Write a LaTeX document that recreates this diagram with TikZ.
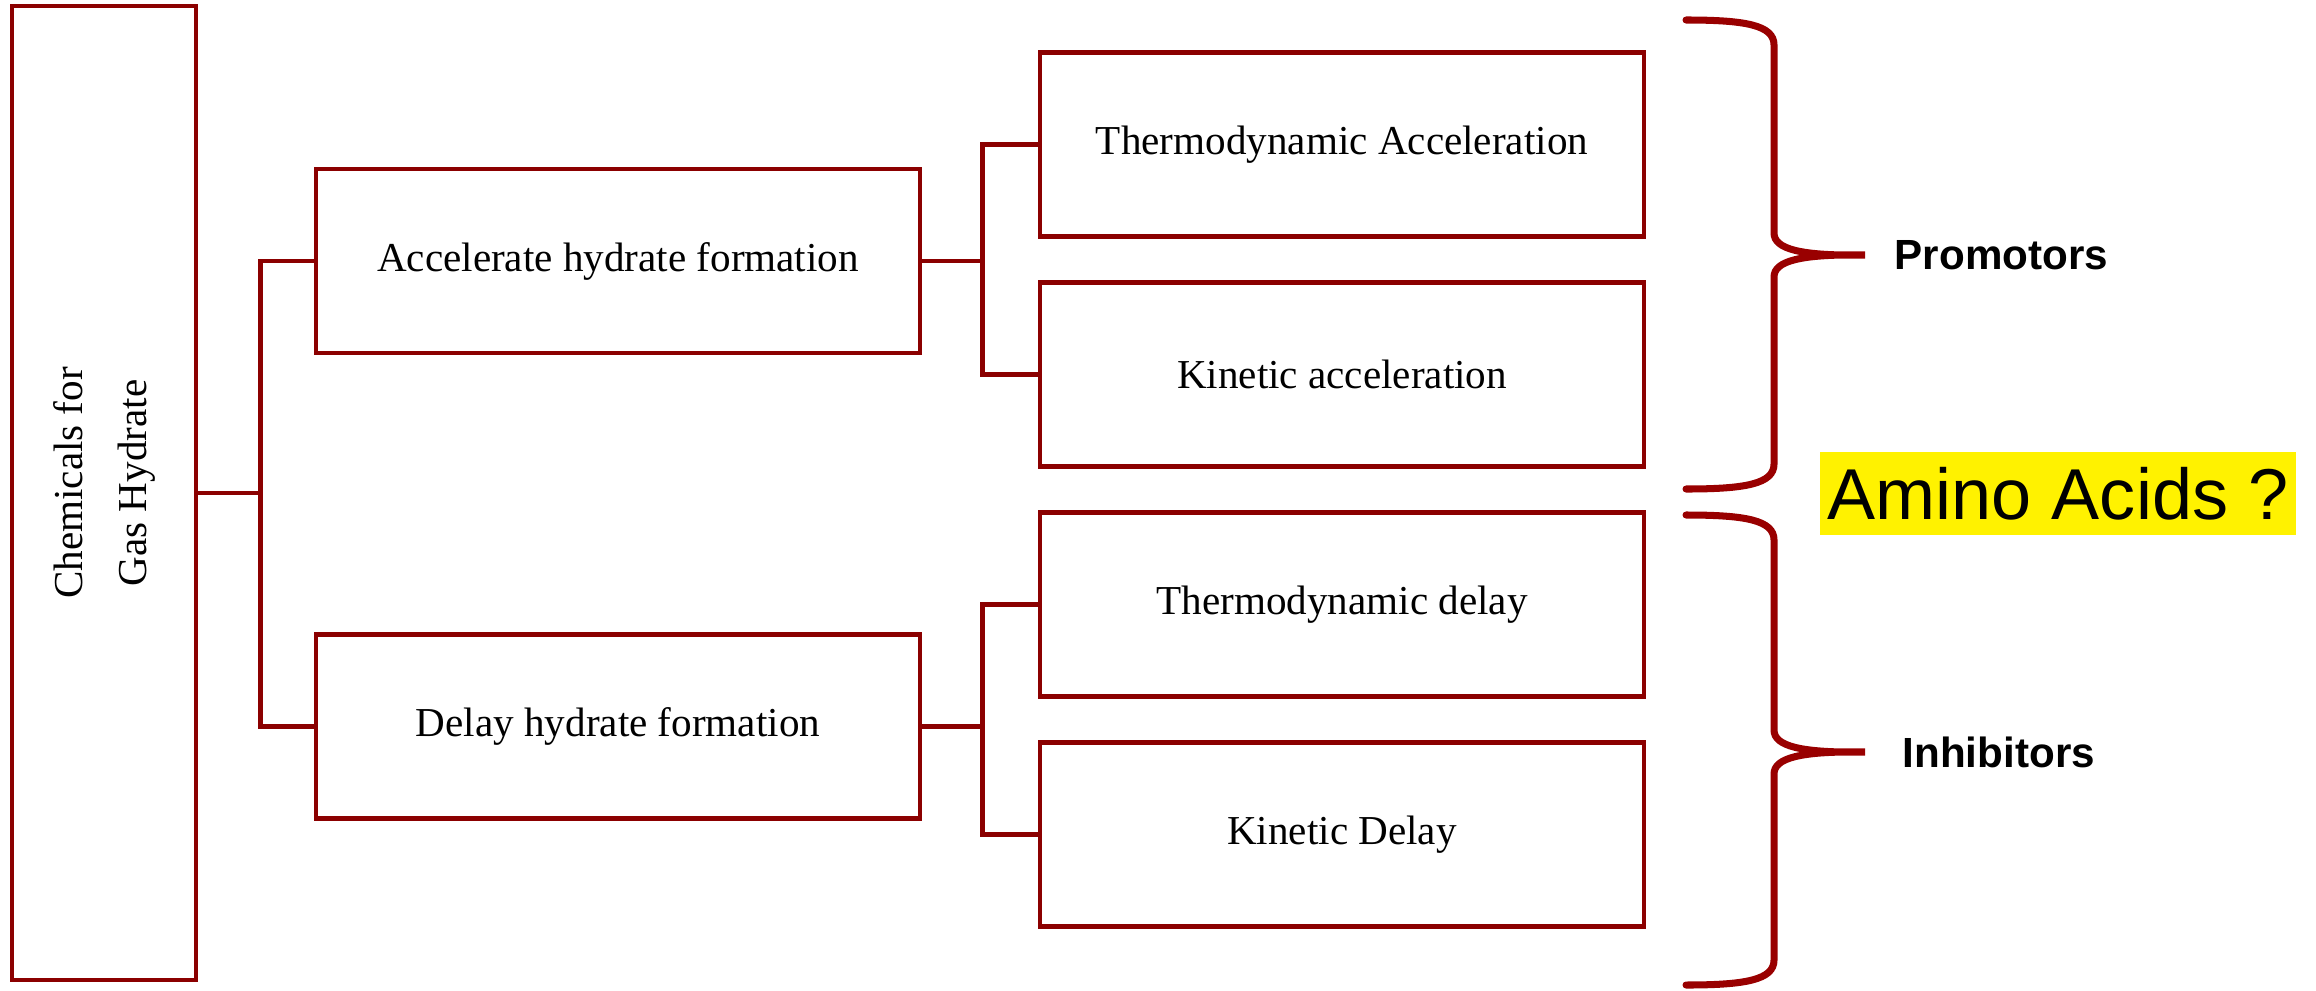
\documentclass[tikz,border=0pt]{standalone}
\usepackage{fontspec}
\setmainfont{Liberation Serif}
\setsansfont{Liberation Sans}
\usepackage{tikz}
\usetikzlibrary{positioning}
\definecolor{boxred}{RGB}{139,0,0}
\definecolor{bracered}{RGB}{153,0,0}

\begin{document}
\begin{tikzpicture}
    \tikzstyle{box}=[
        draw=boxred,
        line width=1.3pt,
        minimum width=6.04cm,
        minimum height=1.84cm,
        inner sep=0pt,
        font=\fontsize{11.7}{14}\selectfont]
    \tikzstyle{tag}=[inner sep=0pt,font=\sffamily\bfseries\fontsize{12}{14}\selectfont]
    \tikzstyle{brace}=[draw=bracered,line width=2pt,line cap=round]
    \tikzstyle{link}=[draw=boxred,line width=1.3pt]

    \useasboundingbox (0,0) rectangle (23.16,-9.9);
    % curly bracket: top y, tip y, bottom y
    \newcommand{\curly}[4]{
        \draw[brace] (16.86,#1) .. controls (17.45,#1) and (17.74,{#1-0.05}) .. (17.74,{#1-0.25})
            -- (17.74,{#2+0.22}) .. controls (17.74,{#2+0.06}) and (18.0,{#2-0.01}) .. (18.65,#2)
            coordinate (#4)
            .. controls (18.0,{#2+0.01}) and (17.74,{#2-0.06}) .. (17.74,{#2-0.22})
            -- (17.74,{#3+0.25}) .. controls (17.74,{#3+0.05}) and (17.45,#3) .. (16.86,#3);
    }

    \node[box,minimum width=1.84cm,minimum height=9.74cm] (n0) at (1.04,-4.93) {};
    \node[rotate=90,align=center,font=\fontsize{11.7}{18.2}\selectfont] (n0t) at ([yshift=0.1cm]n0.center) {Chemicals for\\Gas Hydrate};
    \node[box] (n1) at (6.18,-2.61) {Accelerate hydrate formation};
    \node[box, below of=n1, node distance=4.655cm] (n2) {Delay hydrate formation};
    \node[box] (n3) at (13.42,-1.445) {Thermodynamic Acceleration};
    \node[box, below of=n3, node distance=2.3cm] (n4) {Kinetic acceleration};
    \node[box, below of=n4, node distance=2.3cm] (n5) {Thermodynamic delay};
    \node[box, below of=n5, node distance=2.3cm] (n6) {Kinetic Delay};

    \draw[link] (n0.east) -- ++(0.62,0) coordinate (j0) (j0) |- (n1.west) (j0) |- (n2.west);
    \draw[link] (n1.east) -- ++(0.6,0) coordinate (j1) (j1) |- (n3.west) (j1) |- (n4.west);
    \draw[link] (n2.east) -- ++(0.6,0) coordinate (j2) (j2) |- (n5.west) (j2) |- (n6.west);

    \curly{-0.20}{-2.55}{-4.89}{t1}
    \curly{-5.15}{-7.52}{-9.85}{t2}
    \node[tag, right=0.29cm of t1] (n8) {Promotors};
    \node[tag, right=0.37cm of t2] (n9) {Inhibitors};
    \node[fill=yellow,minimum width=4.76cm,minimum height=0.83cm,inner sep=0pt,
        font=\sffamily\fontsize{20.5}{24}\selectfont] (n7) at (20.58,-4.935) {Amino Acids ?};
\end{tikzpicture}
\end{document}
